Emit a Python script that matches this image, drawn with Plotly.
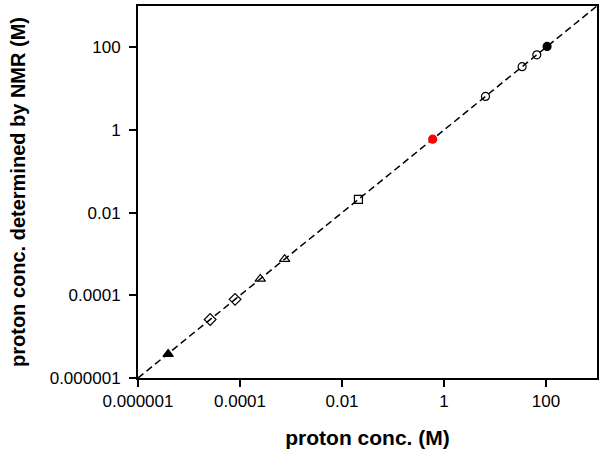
import plotly.graph_objects as go

# Data
ref_line_x = [1e-6, 1e3]
ref_line_y = [1e-6, 1e3]

filled_tri_x = [3.9e-6]
filled_tri_y = [3.8e-6]

diamond_x = [2.6e-5, 8.0e-5]
diamond_y = [2.6e-5, 8.0e-5]

open_tri_x = [2.5e-4, 7.5e-4]
open_tri_y = [2.5e-4, 7.5e-4]

square_x = [0.021]
square_y = [0.021]

red_x = [0.6]
red_y = [0.6]

open_circle_x = [6.5, 34, 66]
open_circle_y = [6.5, 34, 66]

filled_circle_x = [105]
filled_circle_y = [105]

tick_vals = [1e-6, 1e-4, 1e-2, 1, 100]
tick_text = ["0.000001", "0.0001", "0.01", "1", "100"]

FONT = "Liberation Sans, Arial, sans-serif"

fig = go.Figure()

fig.add_trace(go.Scatter(x=ref_line_x, y=ref_line_y, mode="lines",
                         line=dict(color="black", width=1.5, dash="7px,4px"),
                         showlegend=False, hoverinfo="skip"))

def add_pts(x, y, symbol, color, size=8, lw=1.2):
    fig.add_trace(go.Scatter(x=x, y=y, mode="markers", showlegend=False,
                             marker=dict(symbol=symbol, color=color, size=size,
                                         line=dict(color=color, width=lw))))

add_pts(filled_tri_x, filled_tri_y, "triangle-up", "black", 9)
add_pts(diamond_x, diamond_y, "diamond-open", "black", 9)
add_pts(open_tri_x, open_tri_y, "triangle-up-open", "black", 9)
add_pts(square_x, square_y, "square-open", "black", 8)
add_pts(red_x, red_y, "circle", "#ff0000", 8)
add_pts(open_circle_x, open_circle_y, "circle-open", "black", 8)
add_pts(filled_circle_x, filled_circle_y, "circle", "black", 8)

axis_common = dict(
    type="log", range=[-6, 3], automargin=False,
    tickmode="array", tickvals=tick_vals, ticktext=tick_text,
    ticks="outside", ticklen=7, tickwidth=2, tickcolor="black",
    showline=True, linecolor="black", linewidth=2, mirror=True,
    showgrid=False, zeroline=False,
    tickfont=dict(family=FONT, size=17, color="black"),
)

fig.update_xaxes(**axis_common,
                 title=dict(text="<b>proton conc. (M)</b>",
                            font=dict(family=FONT, size=21, color="black"),
                            standoff=20))
fig.update_yaxes(**axis_common, ticklabelstandoff=5,
                 title=dict(text="<b>proton conc. determined by NMR (M)</b>",
                            font=dict(family=FONT, size=20, color="black"),
                            standoff=19))

fig.update_layout(
    width=600, height=453,
    margin=dict(l=138, r=3, t=6, b=75),
    plot_bgcolor="white", paper_bgcolor="white",
)

fig.write_html("out.html", config={"displayModeBar": False},
               post_script="document.body.style.margin='0px';")
